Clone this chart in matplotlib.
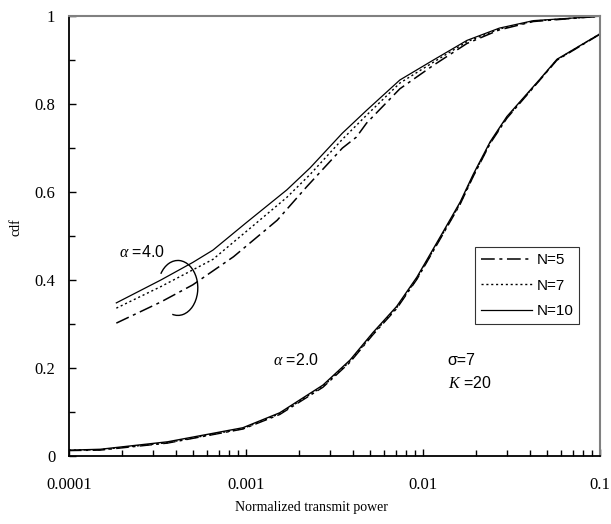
import numpy as np
import matplotlib
matplotlib.use("Agg")
import matplotlib.pyplot as plt
from matplotlib.patches import Arc
from matplotlib.ticker import FixedLocator, NullFormatter

# alpha = 4.0 curves
x4_n10 = [1.85e-4, 3.3e-4, 5e-4, 6.5e-4, 1e-3, 1.7e-3, 2.3e-3, 3.5e-3, 4.8e-3, 7.4e-3, 0.0114, 0.0177, 0.027, 0.042, 0.1]
y4_n10 = [0.348, 0.400, 0.440, 0.468, 0.530, 0.605, 0.655, 0.734, 0.786, 0.855, 0.900, 0.945, 0.973, 0.990, 1.0]
x4_n7 = [1.85e-4, 3.3e-4, 6.5e-4, 1e-3, 1.7e-3, 2.3e-3, 3.5e-3, 4.8e-3, 7.4e-3, 0.0114, 0.0177, 0.027, 0.042, 0.1]
y4_n7 = [0.336, 0.385, 0.447, 0.510, 0.588, 0.640, 0.720, 0.775, 0.848, 0.895, 0.942, 0.971, 0.989, 1.0]
x4_n5 = [1.85e-4, 3.3e-4, 5e-4, 8.5e-4, 1.5e-3, 2.2e-3, 3.5e-3, 4.2e-3, 4.8e-3, 7.4e-3, 0.0114, 0.0177, 0.027, 0.042, 0.1]
y4_n5 = [0.302, 0.350, 0.389, 0.453, 0.536, 0.612, 0.700, 0.725, 0.757, 0.835, 0.888, 0.938, 0.969, 0.988, 1.0]

# alpha = 2.0 curves
x2 = [1e-4, 1.5e-4, 3.6e-4, 9.6e-4, 1.55e-3, 2.72e-3, 3.87e-3, 5.2e-3, 7.1e-3, 9.25e-3, 0.0125, 0.0162, 0.0192, 0.024, 0.0298, 0.0458, 0.0571, 0.1]
y2_n10 = [0.013, 0.015, 0.032, 0.064, 0.098, 0.161, 0.218, 0.280, 0.340, 0.407, 0.498, 0.577, 0.640, 0.715, 0.772, 0.857, 0.902, 0.960]
y2_n7 = [0.013, 0.014, 0.030, 0.062, 0.096, 0.158, 0.215, 0.277, 0.337, 0.404, 0.495, 0.574, 0.637, 0.713, 0.770, 0.856, 0.901, 0.960]
y2_n5 = [0.012, 0.013, 0.029, 0.061, 0.094, 0.156, 0.213, 0.275, 0.335, 0.402, 0.493, 0.572, 0.635, 0.711, 0.768, 0.855, 0.900, 0.959]

serif = "Liberation Serif"
sans = "Liberation Sans"
plt.rcParams["font.family"] = [serif, "DejaVu Serif"]
plt.rcParams["mathtext.fontset"] = "custom"
plt.rcParams["mathtext.it"] = "Liberation Serif:italic"

fig = plt.figure(figsize=(6.11, 5.24), dpi=100)
ax = fig.add_axes([0.113, 0.130, 0.869, 0.839])

dashdot = (0, (9, 3, 2, 3))
dotted = (0, (1.5, 2))
ax.plot(x4_n5, y4_n5, color="black", lw=1.1, linestyle=dashdot, label="N=5")
ax.plot(x4_n7, y4_n7, color="black", lw=1.0, linestyle=dotted, label="N=7")
ax.plot(x4_n10, y4_n10, color="black", lw=0.9, linestyle="-", label="N=10")
ax.plot(x2, y2_n5, color="black", lw=1.0, linestyle=dashdot)
ax.plot(x2, y2_n7, color="black", lw=1.0, linestyle=dotted)
ax.plot(x2, y2_n10, color="black", lw=1.0, linestyle="-")

ax.set_xscale("log")
ax.set_xlim(1e-4, 0.1)
ax.set_ylim(0, 1)
ax.xaxis.set_major_locator(FixedLocator([1e-4, 1e-3, 1e-2, 1e-1]))
ax.set_xticklabels(["0.0001", "0.001", "0.01", "0.1"])
minors = [m * 10.0**e for e in (-4, -3, -2) for m in range(2, 10)]
ax.xaxis.set_minor_locator(FixedLocator(minors))
ax.xaxis.set_minor_formatter(NullFormatter())
ax.set_yticks([0, 0.2, 0.4, 0.6, 0.8, 1.0])
ax.set_yticklabels(["0", "0.2", "0.4", "0.6", "0.8", "1"])
ax.set_yticks(np.arange(0.1, 1.0, 0.2), minor=True)

ax.tick_params(which="both", direction="in", top=False, right=False, width=1.0, labelsize=12)
ax.tick_params(which="major", length=5)
ax.tick_params(which="minor", length=4)
ax.tick_params(axis="x", pad=15)
ax.tick_params(axis="y", pad=10)

ax.spines["left"].set_linewidth(1.3)
ax.spines["bottom"].set_linewidth(1.3)
ax.spines["top"].set_color("#808080")
ax.spines["right"].set_color("#808080")
ax.spines["top"].set_linewidth(1.5)
ax.spines["right"].set_linewidth(1.5)

ax.set_xlabel("Normalized transmit power", fontsize=10)
ax.set_ylabel("cdf", fontsize=10)
ax.xaxis.set_label_coords(0.456, -0.102)
ax.yaxis.set_label_coords(-0.087, 0.52)

leg = ax.legend(loc="upper left", bbox_to_anchor=(0.765, 0.475), borderaxespad=0, frameon=True,
                fancybox=False, edgecolor="black", handlelength=3.3, handletextpad=0.3,
                borderpad=0.4, labelspacing=0.75, prop={"family": sans, "size": 11})
leg.get_frame().set_linewidth(0.8)

ax.text(0.094, 0.452, r"$\alpha$ =4.0", transform=ax.transAxes, fontfamily=sans, fontsize=11.5)
ax.text(0.384, 0.207, r"$\alpha$ =2.0", transform=ax.transAxes, fontfamily=sans, fontsize=11.5)
ax.text(0.713, 0.207, "\u03c3=7", transform=ax.transAxes, fontfamily=sans, fontsize=11.5)
ax.text(0.713, 0.155, r"$K$ =20", transform=ax.transAxes, fontfamily=sans, fontsize=11.5)

arc = Arc((0.205, 0.382), 0.075, 0.125, theta1=-100, theta2=135, transform=ax.transAxes,
          color="black", lw=1.0)
ax.add_patch(arc)

fig.savefig("out.png", dpi=100)
